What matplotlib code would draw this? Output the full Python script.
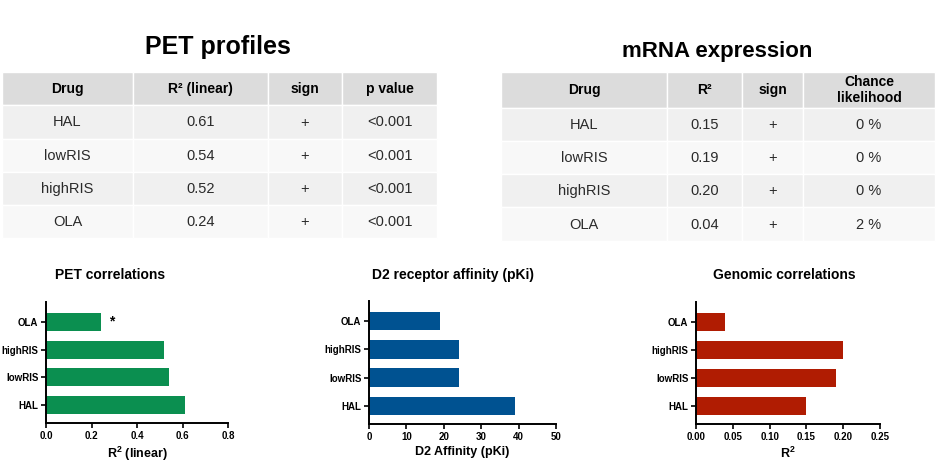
import matplotlib.pyplot as plt
from matplotlib.patches import Rectangle
from matplotlib.ticker import FormatStrFormatter

plt.rcParams['font.family'] = ['Liberation Sans', 'DejaVu Sans']
plt.rcParams['mathtext.fontset'] = 'custom'
plt.rcParams['mathtext.rm'] = 'Liberation Sans'
plt.rcParams['mathtext.bf'] = 'Liberation Sans:bold'

# data
drugs = ['HAL', 'lowRIS', 'highRIS', 'OLA']
pet_r2 = [0.61, 0.54, 0.52, 0.24]
pet_sign = ['+', '+', '+', '+']
pet_p = ['<0.001', '<0.001', '<0.001', '<0.001']
mrna_r2 = [0.15, 0.19, 0.20, 0.04]
mrna_sign = ['+', '+', '+', '+']
mrna_chance = ['0 %', '0 %', '0 %', '2 %']
d2_affinity = [39, 24, 24, 19]

W, H = 939, 465
fig = plt.figure(figsize=(W / 100, H / 100), dpi=100)


def fx(x):
    return x / W


def fy(y):
    return 1 - y / H


def cell(x0, x1, y0, y1, color):
    fig.add_artist(Rectangle((fx(x0), fy(y1)), fx(x1) - fx(x0), fy(y0) - fy(y1),
                             transform=fig.transFigure, facecolor=color,
                             edgecolor='white', linewidth=1.0))


def txt(x, y, s, **kw):
    fig.text(fx(x), fy(y), s, ha='center', va='center', **kw)


def table(cols, header_y, row_edges, headers, rows):
    for i in range(len(cols) - 1):
        cell(cols[i], cols[i + 1], header_y[0], header_y[1], '#dcdcdc')
        txt((cols[i] + cols[i + 1]) / 2, (header_y[0] + header_y[1]) / 2,
            headers[i], fontsize=10, fontweight='bold', linespacing=1.2)
    for r in range(len(rows)):
        color = '#f0f0f0' if r % 2 == 0 else '#f8f8f8'
        y0, y1 = row_edges[r], row_edges[r + 1]
        for i in range(len(cols) - 1):
            cell(cols[i], cols[i + 1], y0, y1, color)
            txt((cols[i] + cols[i + 1]) / 2, (y0 + y1) / 2 + 0.5, rows[r][i],
                fontsize=10.5, color='#2a2a2a')


# PET profiles table
txt(218, 47, 'PET profiles', fontsize=18, fontweight='bold')
pet_rows = [[d, '%.2f' % v, s, p] for d, v, s, p in zip(drugs, pet_r2, pet_sign, pet_p)]
table([2, 133, 268, 342, 437], (72, 105), [105, 139, 172, 205, 238],
      ['Drug', 'R² (linear)', 'sign', 'p value'], pet_rows)

# mRNA expression table
txt(717, 52, 'mRNA expression', fontsize=16, fontweight='bold')
mrna_rows = [[d, '%.2f' % v, s, c] for d, v, s, c in zip(drugs, mrna_r2, mrna_sign, mrna_chance)]
table([501, 667, 742, 803, 935], (72, 108), [108, 141, 174, 207, 241],
      ['Drug', 'R²', 'sign', 'Chance\nlikelihood'], mrna_rows)


def bar_panel(left, right, top, bottom, values, color, xmax, step, fmt, title, xlabel, tcx):
    ax = fig.add_axes([fx(left), fy(bottom), fx(right) - fx(left), fy(top) - fy(bottom)])
    ax.barh(range(len(drugs)), values, height=0.65, color=color)
    ax.set_ylim(-0.64, 3.71)
    ax.set_xlim(0, xmax)
    ax.set_yticks(range(len(drugs)))
    ax.set_yticklabels(drugs, fontweight='bold')
    ticks = [i * step for i in range(int(round(xmax / step)) + 1)]
    ax.set_xticks(ticks)
    ax.xaxis.set_major_formatter(FormatStrFormatter(fmt))
    for lab in ax.get_xticklabels():
        lab.set_fontweight('bold')
    ax.tick_params(labelsize=7, length=3.5, width=1.2, pad=2)
    for side in ['top', 'right']:
        ax.spines[side].set_visible(False)
    for side in ['left', 'bottom']:
        ax.spines[side].set_linewidth(1.4)
    ax.set_xlabel(xlabel, fontsize=9, fontweight='bold', labelpad=3)
    txt(tcx, 275, title, fontsize=10, fontweight='bold')
    return ax


ax1 = bar_panel(46, 228, 302, 423, pet_r2, '#0b8f50', 0.8, 0.2, '%.1f',
                'PET correlations', r'$\mathbf{R^2}$ (linear)', 110)
ax1.text(0.29, 3, '*', fontsize=10, fontweight='bold', ha='center', va='center')
bar_panel(369, 556, 301, 424, d2_affinity, '#005291', 50, 10, '%d',
          'D2 receptor affinity (pKi)', 'D2 Affinity (pKi)', 453)
bar_panel(696, 880, 302, 424, mrna_r2, '#b01c02', 0.25, 0.05, '%.2f',
          'Genomic correlations', r'$\mathbf{R^2}$', 784)

fig.savefig('out.png', dpi=100)
